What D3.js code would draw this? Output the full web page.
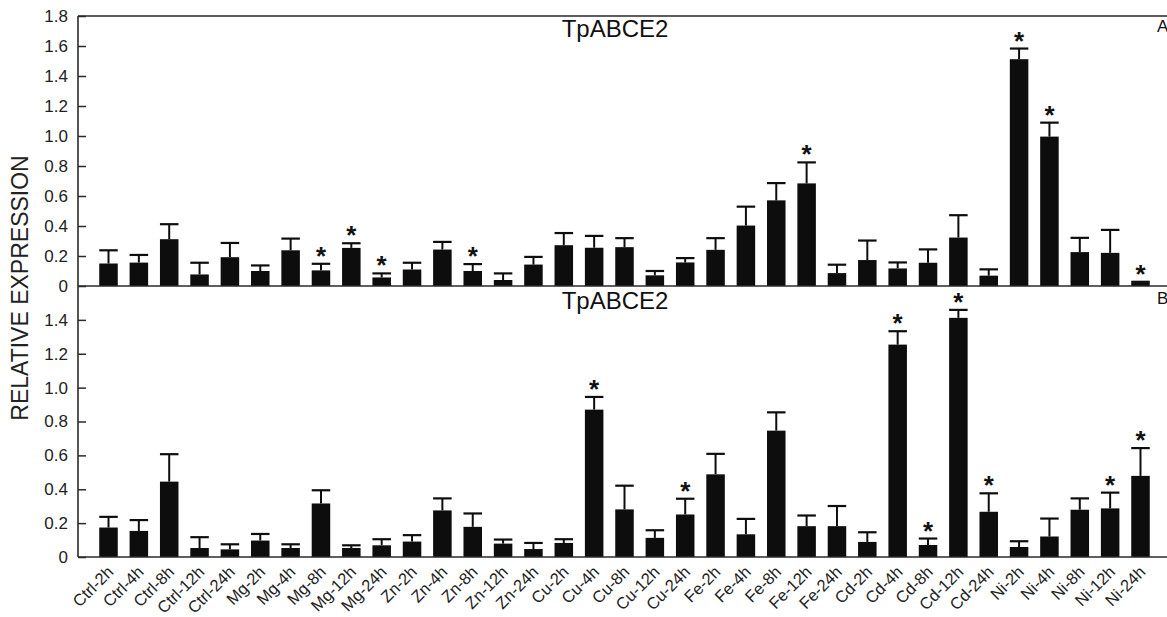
<!DOCTYPE html>
<html>
<head>
<meta charset="utf-8">
<script src="https://cdn.jsdelivr.net/npm/d3@7"></script>
<style>
  html, body { margin: 0; padding: 0; background: #fff; }
  svg { display: block; font-family: "Liberation Sans", Arial, sans-serif; }
</style>
</head>
<body>
<svg id="chart" width="1167" height="617"></svg>
<script>
const categories = ["Ctrl-2h","Ctrl-4h","Ctrl-8h","Ctrl-12h","Ctrl-24h",
  "Mg-2h","Mg-4h","Mg-8h","Mg-12h","Mg-24h",
  "Zn-2h","Zn-4h","Zn-8h","Zn-12h","Zn-24h",
  "Cu-2h","Cu-4h","Cu-8h","Cu-12h","Cu-24h",
  "Fe-2h","Fe-4h","Fe-8h","Fe-12h","Fe-24h",
  "Cd-2h","Cd-4h","Cd-8h","Cd-12h","Cd-24h",
  "Ni-2h","Ni-4h","Ni-8h","Ni-12h","Ni-24h"];

// Panel A
const valuesA = [0.150,0.156,0.312,0.077,0.192, 0.100,0.238,0.104,0.254,0.057,
  0.110,0.243,0.100,0.040,0.143, 0.272,0.255,0.259,0.071,0.157,
  0.241,0.403,0.571,0.684,0.086, 0.173,0.117,0.155,0.323,0.069,
  1.512,0.996,0.226,0.221,0.024];
const errorsA = [0.088,0.051,0.100,0.078,0.095, 0.037,0.078,0.044,0.031,0.027,
  0.045,0.051,0.046,0.044,0.051, 0.081,0.079,0.060,0.029,0.029,
  0.078,0.126,0.115,0.140,0.056, 0.130,0.040,0.089,0.149,0.042,
  0.071,0.093,0.095,0.153,0.004];
const starsA = ["Mg-8h","Mg-12h","Mg-24h","Zn-8h","Fe-12h","Ni-2h","Ni-4h","Ni-24h"];

// Panel B
const valuesB = [0.174,0.154,0.445,0.053,0.045, 0.097,0.053,0.316,0.053,0.069,
  0.091,0.275,0.178,0.079,0.047, 0.083,0.870,0.281,0.113,0.251,
  0.488,0.134,0.746,0.182,0.182, 0.089,1.254,0.071,1.412,0.267,
  0.059,0.121,0.279,0.287,0.479];
const errorsB = [0.063,0.064,0.162,0.064,0.030, 0.039,0.022,0.078,0.016,0.036,
  0.038,0.071,0.079,0.024,0.036, 0.022,0.075,0.140,0.045,0.093,
  0.121,0.091,0.108,0.063,0.119, 0.057,0.079,0.038,0.047,0.109,
  0.034,0.106,0.067,0.093,0.164];
const starsB = ["Cu-4h","Cu-24h","Cd-4h","Cd-8h","Cd-12h","Cd-24h","Ni-12h","Ni-24h"];

const ticksA = [0,0.2,0.4,0.6,0.8,1.0,1.2,1.4,1.6,1.8];
const ticksB = [0,0.2,0.4,0.6,0.8,1.0,1.2,1.4];
const geneLabel = "TpABCE2";
const yTitle = "RELATIVE EXPRESSION";

const svg = d3.select("#chart");
const W = 1167;
const left = 78, rightEnd = 1171;
const axisColor = "#2a2a2a";
const barColor = "#0d0d0d";

const x = d3.scaleBand().domain(categories).range([left, rightEnd])
  .paddingInner(0.39).paddingOuter(0.7);

const panels = [
  {vals: valuesA, errs: errorsA, stars: starsA, domain: [0,1.8], range: [286,16], ticks: ticksA, letter: "A"},
  {vals: valuesB, errs: errorsB, stars: starsB, domain: [0,1.6], range: [557,286], ticks: ticksB, letter: "B"}
];

const fmt = d => d === 0 ? "0" : d3.format(".1f")(d);

panels.forEach((p, pi) => {
  const y = d3.scaleLinear().domain(p.domain).range(p.range);
  const g = svg.append("g");

  // bars
  g.selectAll("rect.bar").data(categories).join("rect")
    .attr("class","bar")
    .attr("x", c => x(c))
    .attr("width", x.bandwidth())
    .attr("y", (c,i) => y(p.vals[i]))
    .attr("height", (c,i) => y(0) - y(p.vals[i]))
    .attr("fill", barColor);

  // error bars (upper)
  const eb = g.selectAll("g.err").data(categories).join("g").attr("class","err");
  eb.append("line")
    .attr("x1", c => x(c) + x.bandwidth()/2).attr("x2", c => x(c) + x.bandwidth()/2)
    .attr("y1", (c,i) => y(p.vals[i])).attr("y2", (c,i) => y(p.vals[i] + p.errs[i]))
    .attr("stroke", barColor).attr("stroke-width", 2);
  eb.append("line")
    .attr("x1", c => x(c)).attr("x2", c => x(c) + x.bandwidth())
    .attr("y1", (c,i) => y(p.vals[i] + p.errs[i])).attr("y2", (c,i) => y(p.vals[i] + p.errs[i]))
    .attr("stroke", barColor).attr("stroke-width", 2.2);

  // stars
  g.selectAll("text.star").data(p.stars).join("text")
    .attr("class","star")
    .attr("x", c => x(c) + x.bandwidth()/2)
    .attr("y", c => { const i = categories.indexOf(c); return y(p.vals[i] + p.errs[i]) + 1; })
    .attr("text-anchor","middle")
    .attr("font-size", 26)
    .attr("font-weight","bold")
    .attr("fill","#111")
    .text("*");

  // y axis
  const ax = g.append("g").attr("transform", `translate(${left},0)`)
    .call(d3.axisLeft(y).tickValues(p.ticks).tickFormat(fmt).tickSize(-8).tickPadding(10));
  ax.select(".domain").remove();
  ax.selectAll(".tick line").attr("stroke", axisColor).attr("stroke-width", 1.5);
  ax.selectAll(".tick text").attr("font-size", 17).attr("fill", "#222")
    .attr("font-family", "'Liberation Sans', Arial, sans-serif");

  // baseline of the panel
  g.append("line").attr("x1", left).attr("x2", W).attr("y1", y(0)).attr("y2", y(0))
    .attr("stroke", axisColor).attr("stroke-width", 1.6);

  // gene label
  g.append("text").attr("x", 615).attr("y", p.range[1] + 21 + (pi === 1 ? 2 : 0))
    .attr("text-anchor","middle").attr("font-size", 24).attr("fill","#111")
    .text(geneLabel);

  // panel letter
  g.append("text").attr("x", 1157).attr("y", p.range[1] + 16 + (pi === 1 ? 2 : 0))
    .attr("font-size", 17).attr("fill","#111").text(p.letter);
});

// top frame line and left axis line
svg.append("line").attr("x1", left).attr("x2", W).attr("y1", 16).attr("y2", 16)
  .attr("stroke", axisColor).attr("stroke-width", 1.6);
svg.append("line").attr("x1", left).attr("x2", left).attr("y1", 16).attr("y2", 557)
  .attr("stroke", axisColor).attr("stroke-width", 1.6);

// x labels
svg.append("g").selectAll("text").data(categories).join("text")
  .attr("transform", c => `translate(${x(c) + x.bandwidth()/2 + 6},${573}) rotate(-45)`)
  .attr("text-anchor","end")
  .attr("font-size", 16.5)
  .attr("fill","#222")
  .text(c => c);

// y title
svg.append("text")
  .attr("transform", "translate(28,288) rotate(-90)")
  .attr("text-anchor","middle")
  .attr("font-size", 23)
  .attr("fill","#222")
  .text(yTitle);
</script>
</body>
</html>
